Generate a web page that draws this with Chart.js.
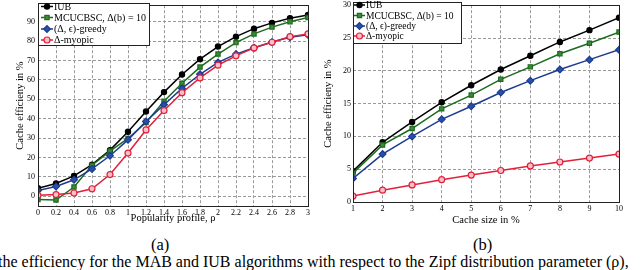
<!DOCTYPE html>
<html>
<head>
<meta charset="utf-8">
<script src="https://cdn.jsdelivr.net/npm/chart.js@4/dist/chart.umd.min.js"></script>
<style>
  html, body { margin:0; padding:0; background:#fff; width:640px; height:270px; overflow:hidden; position:relative; }
  canvas { position:absolute; top:0; }
  #cA { left:0; } #cB { left:320px; }
  .cap { position:absolute; font-family:'Liberation Serif','DejaVu Serif',serif; color:#000; white-space:nowrap; line-height:1.15; }
</style>
</head>
<body>
<canvas id="cA" width="320" height="230"></canvas>
<canvas id="cB" width="320" height="230"></canvas>
<div class="cap" id="capA" style="left:151px; top:236px; font-size:16.5px;">(a)</div>
<div class="cap" id="capB" style="left:473px; top:236px; font-size:16.5px;">(b)</div>
<div class="cap" id="capLine" style="left:-2px; top:253px; font-size:16px;">the efficiency for the MAB and IUB algorithms with respect to the Zipf distribution parameter (ρ),</div>
<script>
// ---------- data ----------
const seriesNames = ['IUB', 'MCUCBSC, Δ(b) = 10', '(Δ, ϵ)-greedy', 'Δ-myopic'];

// (a) Popularity profile
const rhoValues = [0, 0.2, 0.4, 0.6, 0.8, 1.0, 1.2, 1.4, 1.6, 1.8, 2.0, 2.2, 2.4, 2.6, 2.8, 3.0];
const iubA    = [4.2, 6.6, 10.5, 16.3, 23.8, 33.3, 43.7, 53.7, 62.8, 70.7, 77.2, 82.3, 86.4, 89.4, 91.8, 93.5];
const mcuA    = [-1.7, -1.9, 4.8, 16.0, 23.3, 29.8, 38.0, 49.0, 58.3, 66.6, 73.3, 79.2, 83.7, 87.2, 90.0, 92.2];
const greedyA = [3.0, 5.1, 8.5, 14.1, 20.9, 29.1, 38.6, 47.2, 55.6, 62.9, 69.0, 73.3, 76.6, 79.5, 82.0, 83.3];
const myopicA = [0.5, 0.9, 1.7, 3.9, 11.2, 22.3, 34.2, 44.2, 53.4, 61.0, 67.6, 72.4, 76.5, 79.4, 82.3, 83.7];
const xTickValsA = [0, 0.2, 0.4, 0.6, 0.8, 1, 1.2, 1.4, 1.6, 1.8, 2, 2.2, 2.4, 2.6, 2.8, 3];
const xTickLabelsA = ['0','0.2','0.4','0.6','0.8','1','1.2','1.4','1.6','1.8','2','2.2','2.4','2.6','2.8','3'];
const yTickValsA = [0, 10, 20, 30, 40, 50, 60, 70, 80, 90];

// (b) Cache size
const cacheSizes = [1, 2, 3, 4, 5, 6, 7, 8, 9, 10];
const iubB    = [4.7, 9.1, 12.2, 15.2, 17.8, 20.2, 22.3, 24.4, 26.2, 28.1];
const mcuB    = [4.4, 8.7, 11.2, 14.2, 16.3, 18.7, 20.6, 22.6, 24.2, 25.9];
const greedyB = [3.6, 7.3, 10.0, 12.6, 14.6, 16.7, 18.5, 20.2, 21.7, 23.2];
const myopicB = [0.9, 1.8, 2.6, 3.4, 4.1, 4.8, 5.5, 6.1, 6.7, 7.3];
const xTickValsB = [1, 2, 3, 4, 5, 6, 7, 8, 9, 10];
const xTickLabelsB = ['1','2','3','4','5','6','7','8','9','10'];
const yTickValsB = [0, 5, 10, 15, 20, 25, 30];

// ---------- styles ----------
const SERIF = "'Liberation Serif', 'DejaVu Serif', serif";
const styles = [
  { color:'#000000', bg:'#000000', pointStyle:'circle', radius:2.6, order:3 },
  { color:'#1d6b1d', bg:'#3d8a3d', pointStyle:'rect', radius:3.0, order:2 },
  { color:'#1c3c90', bg:'#2a4fa8', pointStyle:'rectRot', radius:3.4, order:1 },
  { color:'#e41f3a', bg:'#f6c0c8', pointStyle:'circle', radius:3.0, order:0 }
];

function makeDatasets(xs, seriesList) {
  return seriesList.map((ys, i) => ({
    label: seriesNames[i],
    data: xs.map((x, j) => ({ x: x, y: ys[j] })),
    borderColor: styles[i].color,
    backgroundColor: styles[i].bg,
    pointBackgroundColor: styles[i].bg,
    pointBorderColor: styles[i].color,
    pointStyle: styles[i].pointStyle,
    pointRadius: styles[i].radius,
    pointBorderWidth: 1.2,
    borderWidth: 1.5,
    tension: 0,
    order: styles[i].order
  }));
}

const frameLegendPlugin = {
  id: 'frameLegend',
  afterDatasetsDraw(chart, args, opts) {
    const ctx = chart.ctx, a = chart.chartArea;
    ctx.save();
    ctx.setLineDash([]);
    ctx.strokeStyle = '#222';
    ctx.lineWidth = 1;
    ctx.strokeRect(Math.round(a.left) + 0.5, Math.round(a.top) + 0.5, Math.round(a.right - a.left), Math.round(a.bottom - a.top));
    const L = opts;
    ctx.fillStyle = '#fff';
    ctx.fillRect(L.x, L.y, L.w, L.h);
    ctx.strokeStyle = '#222';
    ctx.strokeRect(L.x + 0.5, L.y + 0.5, L.w, L.h);
    ctx.font = L.fontSize + 'px ' + SERIF;
    ctx.textBaseline = 'middle';
    ctx.textAlign = 'left';
    chart.data.datasets.forEach((ds, i) => {
      const y = L.rows[i];
      ctx.strokeStyle = ds.borderColor;
      ctx.lineWidth = 1.5;
      ctx.beginPath();
      ctx.moveTo(L.lx0, y); ctx.lineTo(L.lx1, y);
      ctx.stroke();
      ctx.fillStyle = ds.pointBackgroundColor;
      ctx.strokeStyle = ds.pointBorderColor;
      ctx.lineWidth = 1.2;
      Chart.helpers.drawPoint(ctx, { pointStyle: ds.pointStyle, radius: ds.pointRadius, rotation: 0, borderWidth: 1.2 }, (L.lx0 + L.lx1) / 2, y);
      ctx.fillStyle = '#000';
      ctx.fillText(ds.label, L.tx, y + 0.5);
    });
    ctx.restore();
  }
};

function makeChart(id, cfg) {
  const tickFont = { family: SERIF, size: 8 };
  const titleFont = { family: SERIF, size: 10.5 };
  return new Chart(document.getElementById(id), {
    type: 'line',
    data: { datasets: cfg.datasets },
    plugins: [frameLegendPlugin],
    options: {
      responsive: false,
      animation: false,
      devicePixelRatio: 1,
      layout: { padding: cfg.padding },
      plugins: { legend: { display: false }, tooltip: { enabled: false }, frameLegend: cfg.legend },
      scales: {
        x: {
          type: 'linear',
          min: cfg.xMin, max: cfg.xMax,
          afterBuildTicks: s => { s.ticks = cfg.xTicks.map(v => ({ value: v })); },
          afterFit: s => { s.height = cfg.xHeight; s.paddingLeft = 0; s.paddingRight = 0; },
          ticks: { font: tickFont, color: '#000', padding: cfg.xTickPad, maxRotation: 0, autoSkip: false,
                   callback: (v, i) => cfg.xLabels[i] },
          grid: { color: '#9a9a9a', lineWidth: 1, drawTicks: false },
          border: { display: false, dash: [3, 2] },
          title: { display: true, text: cfg.xTitle, font: titleFont, color: '#000', padding: { top: 0, bottom: cfg.xTitlePad } }
        },
        y: {
          type: 'linear',
          min: cfg.yMin, max: cfg.yMax,
          afterBuildTicks: s => { s.ticks = cfg.yTicks.map(v => ({ value: v })); },
          afterFit: s => { s.width = cfg.yWidth; s.paddingTop = 0; s.paddingBottom = 0; },
          ticks: { font: tickFont, color: '#000', padding: cfg.yTickPad, autoSkip: false },
          grid: { color: '#9a9a9a', lineWidth: 1, drawTicks: false },
          border: { display: false, dash: [3, 2] },
          title: { display: true, text: 'Cache efficieny in %', font: titleFont, color: '#000', padding: { top: cfg.yTitlePad, bottom: cfg.yTitlePad } }
        }
      }
    }
  });
}

function build() {
  makeChart('cA', {
    datasets: makeDatasets(rhoValues, [iubA, mcuA, greedyA, myopicA]),
    padding: { top: 3, right: 12, left: 0, bottom: 0 },
    xMin: 0, xMax: 3, xTicks: xTickValsA, xLabels: xTickLabelsA,
    yMin: -5, yMax: 98.5, yTicks: yTickValsA,
    xHeight: 24, yWidth: 38, xTickPad: 2, yTickPad: 3, xTitlePad: 5, yTitlePad: 14,
    xTitle: 'Popularity profile, ρ',
    legend: { x: 38, y: 3, w: 111, h: 42, rows: [6.5, 17.5, 29, 40], lx0: 41, lx1: 53, tx: 54, fontSize: 10 }
  });
  makeChart('cB', {
    datasets: makeDatasets(cacheSizes, [iubB, mcuB, greedyB, myopicB]),
    padding: { top: 2, right: 21, left: 0, bottom: 0 },
    xMin: 1, xMax: 10, xTicks: xTickValsB, xLabels: xTickLabelsB,
    yMin: 0, yMax: 30, yTicks: yTickValsB,
    xHeight: 28, yWidth: 33, xTickPad: 2, yTickPad: 2, xTitlePad: 3.5, yTitlePad: 2,
    xTitle: 'Cache size in %',
    legend: { x: 33, y: 2, w: 108, h: 41, rows: [5, 15.5, 26, 36], lx0: 34, lx1: 45, tx: 46, fontSize: 9.5 }
  });
}
if (document.fonts && document.fonts.load) {
  Promise.all([
    document.fonts.load("10px 'Liberation Serif'"),
    document.fonts.load("10px 'DejaVu Serif'")
  ]).then(build, build);
} else { build(); }
</script>
</body>
</html>
